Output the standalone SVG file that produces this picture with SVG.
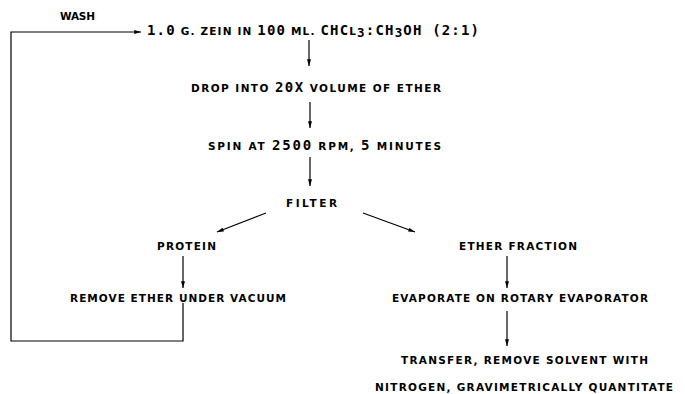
<svg xmlns="http://www.w3.org/2000/svg" width="685" height="394" viewBox="0 0 685 394">
<defs>
<marker id="ah" viewBox="0 0 10 6" refX="10" refY="3" markerWidth="7" markerHeight="4" markerUnits="userSpaceOnUse" orient="auto">
<path d="M0,0 L10,3 L0,6 Z" fill="#000"/>
</marker>
</defs>
<style>
text{font-family:"DejaVu Sans","Liberation Sans",sans-serif;font-weight:bold;fill:#000;font-size:10.5px}
.big{font-size:14px;font-weight:600;font-family:"DejaVu Sans Mono","Liberation Mono",monospace}
.sub{font-size:12.5px;font-weight:600;font-family:"DejaVu Sans Mono","Liberation Mono",monospace}
.c{fill:none;stroke:#000;stroke-width:1.2}
</style>
<rect width="685" height="394" fill="#fff"/>
<g id="connectors">
<path class="c" d="M183,303 V341 H11 V32 H141" marker-end="url(#ah)"/>
<path class="c" d="M309,40 V66" marker-end="url(#ah)"/>
<path class="c" d="M310,102 V128" marker-end="url(#ah)"/>
<path class="c" d="M310,157 V186" marker-end="url(#ah)"/>
<path class="c" d="M266,213 L217,232" marker-end="url(#ah)"/>
<path class="c" d="M363,213 L415,232" marker-end="url(#ah)"/>
<path class="c" d="M183,256 V288" marker-end="url(#ah)"/>
<path class="c" d="M507,256 V288" marker-end="url(#ah)"/>
<path class="c" d="M507,311 V346" marker-end="url(#ah)"/>
</g>
<g id="wash"><text x="60" y="20" textLength="35" lengthAdjust="spacing">WASH</text></g>
<g id="start"><text x="147" y="35" textLength="332" lengthAdjust="spacing"><tspan class="big">1.0</tspan> G. ZEIN IN <tspan class="big">100</tspan> ML. <tspan class="big">CHC</tspan>L<tspan class="sub" dy="1.5">3</tspan><tspan class="big" dy="-1.5">:CH</tspan><tspan class="sub" dy="1.5">3</tspan><tspan class="big" dy="-1.5">OH (2:1)</tspan></text></g>
<g id="drop"><text x="191" y="92" textLength="250" lengthAdjust="spacing">DROP INTO <tspan class="big">20X</tspan> VOLUME OF ETHER</text></g>
<g id="spin"><text x="208" y="150" textLength="233" lengthAdjust="spacing">SPIN AT <tspan class="big">2500</tspan> RPM, <tspan class="big">5</tspan> MINUTES</text></g>
<g id="filter"><text x="286" y="207" textLength="51" lengthAdjust="spacing">FILTER</text></g>
<g id="protein"><text x="157" y="250" textLength="59" lengthAdjust="spacing">PROTEIN</text></g>
<g id="ether"><text x="459" y="250" textLength="118" lengthAdjust="spacing">ETHER FRACTION</text></g>
<g id="remove"><text x="70" y="302" textLength="216" lengthAdjust="spacing">REMOVE ETHER UNDER VACUUM</text></g>
<g id="evaporate"><text x="392" y="302" textLength="256" lengthAdjust="spacing">EVAPORATE ON ROTARY EVAPORATOR</text></g>
<g id="transfer"><text x="401" y="364" textLength="247" lengthAdjust="spacing">TRANSFER, REMOVE SOLVENT WITH</text>
<text x="375" y="391" textLength="298" lengthAdjust="spacing">NITROGEN, GRAVIMETRICALLY QUANTITATE</text></g>
</svg>
